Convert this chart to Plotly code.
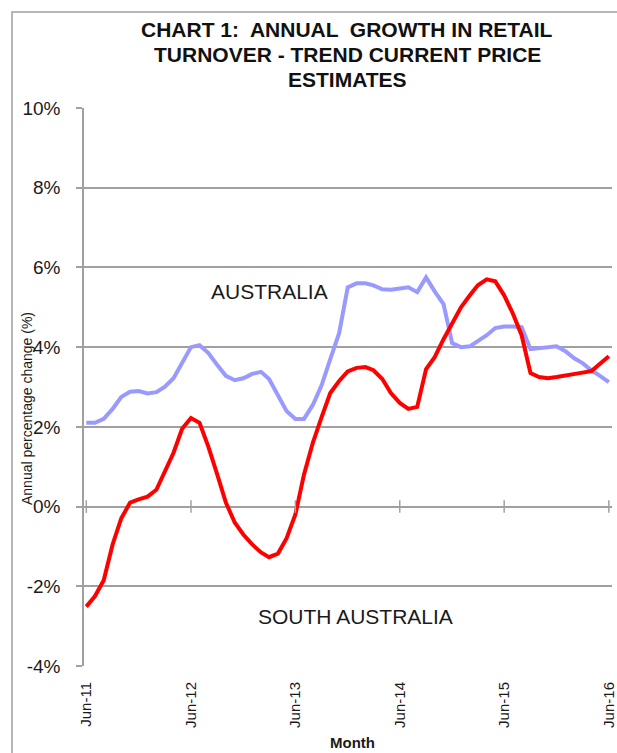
import plotly.graph_objects as go
import pandas as pd

# ---- data (annual % change, monthly Jun-11 .. Jun-16) ----
months = pd.date_range("2011-06-01", periods=61, freq="MS")

australia = [2.10, 2.10, 2.20, 2.45, 2.75, 2.88, 2.90, 2.84, 2.87, 3.00,
             3.22, 3.60, 4.00, 4.05, 3.85, 3.55, 3.28, 3.17, 3.22, 3.33,
             3.38, 3.20, 2.80, 2.40, 2.20, 2.20, 2.55, 3.05, 3.70, 4.35,
             5.50, 5.60, 5.60, 5.55, 5.45, 5.44, 5.47, 5.50, 5.38, 5.75,
             5.40, 5.08, 4.10, 4.00, 4.02, 4.15, 4.30, 4.48, 4.52, 4.52,
             4.50, 3.95, 3.97, 4.00, 4.02, 3.90, 3.72, 3.60, 3.42, 3.28,
             3.12]

south_australia = [-2.51, -2.25, -1.85, -0.95, -0.30, 0.10, 0.18, 0.25, 0.42, 0.85,
                   1.35, 1.95, 2.22, 2.10, 1.50, 0.80, 0.10, -0.40, -0.70, -0.95,
                   -1.15, -1.27, -1.18, -0.80, -0.20, 0.80, 1.60, 2.25, 2.85, 3.15,
                   3.39, 3.48, 3.50, 3.42, 3.20, 2.85, 2.60, 2.45, 2.50, 3.45,
                   3.75, 4.20, 4.60, 5.00, 5.30, 5.55, 5.70, 5.65, 5.30, 4.85,
                   4.30, 3.35, 3.25, 3.22, 3.25, 3.28, 3.33, 3.36, 3.40, 3.58,
                   3.77]

tick_dates = pd.date_range("2011-06-01", periods=6, freq="12MS")
tick_labels = ["Jun-11", "Jun-12", "Jun-13", "Jun-14", "Jun-15", "Jun-16"]
y_ticks = [-4, -2, 0, 2, 4, 6, 8, 10]
y_tick_labels = ["-4%", "-2%", "0%", "2%", "4%", "6%", "8%", "10%"]

title_lines = ["CHART 1:  ANNUAL  GROWTH IN RETAIL",
               "TURNOVER - TREND CURRENT PRICE",
               "ESTIMATES"]

# ---- layout geometry (pixels) ----
W, H = 617, 753
ML, MR, MT, MB = 84, 5, 108, 87
PW, PH = W - ML - MR, H - MT - MB


def px(x):
    return (x - ML) / PW


def py(y):
    return (H - MB - y) / PH


FONT = "Liberation Sans, Arial, sans-serif"
GRID = "#a0a0a0"

fig = go.Figure()

fig.add_trace(go.Scatter(x=months, y=australia, mode="lines",
                         line=dict(color="#9999ff", width=4),
                         name="AUSTRALIA", hoverinfo="skip"))
fig.add_trace(go.Scatter(x=months, y=south_australia, mode="lines",
                         line=dict(color="#ff0000", width=4),
                         name="SOUTH AUSTRALIA", hoverinfo="skip"))
# tick marks on the zero (category) axis line
fig.add_trace(go.Scatter(x=tick_dates, y=[0] * len(tick_dates), mode="markers",
                         marker=dict(symbol="line-ns", size=9,
                                     line=dict(color=GRID, width=1.5)),
                         hoverinfo="skip", showlegend=False, cliponaxis=False))

annotations = []
for txt, yc in zip(title_lines, [30, 55, 80]):
    annotations.append(dict(text=txt, x=px(347), y=py(yc), xref="paper", yref="paper",
                            xanchor="center", yanchor="middle", showarrow=False,
                            font=dict(family=FONT, size=21, color="#111111",
                                      weight="bold")))
annotations += [
    dict(text="AUSTRALIA", x=px(269), y=py(291), xref="paper", yref="paper",
         xanchor="center", yanchor="middle", showarrow=False,
         font=dict(family=FONT, size=21, color="#1a1a1a")),
    dict(text="SOUTH AUSTRALIA", x=px(355), y=py(616), xref="paper", yref="paper",
         xanchor="center", yanchor="middle", showarrow=False,
         font=dict(family=FONT, size=21, color="#1a1a1a")),
    dict(text="Annual percentage change (%)", x=px(27), y=py(409), xref="paper",
         yref="paper", xanchor="center", yanchor="middle", textangle=-90,
         showarrow=False, font=dict(family=FONT, size=14, color="#1a1a1a")),
    dict(text="Month", x=px(352), y=py(742), xref="paper", yref="paper",
         xanchor="center", yanchor="middle", showarrow=False,
         font=dict(family=FONT, size=15, color="#1a1a1a", weight="bold")),
]

x_start = months[0] - pd.Timedelta(days=8)
x_end = months[-1] + pd.Timedelta(days=11)

fig.update_layout(
    width=W, height=H,
    margin=dict(l=ML, r=MR, t=MT, b=MB, pad=0),
    paper_bgcolor="white", plot_bgcolor="white",
    showlegend=False,
    annotations=annotations,
    shapes=[dict(type="path", xref="paper", yref="paper",
                 path=f"M {px(12)} {py(800)} L {px(12)} {py(12)} L {px(700)} {py(12)}",
                 line=dict(color=GRID, width=1.5))],
    xaxis=dict(range=[x_start, x_end], tickvals=tick_dates,
               ticktext=tick_labels, tickangle=-90, ticks="",
               ticklabelstandoff=12, showgrid=False, zeroline=False,
               showline=False, automargin=False, ticklabeloverflow="allow",
               tickfont=dict(family=FONT, size=15, color="#1a1a1a")),
    yaxis=dict(range=[-4, 10], tickvals=y_ticks, ticktext=y_tick_labels,
               ticks="outside", ticklen=6, tickcolor=GRID, tickwidth=1.5,
               showline=True, linecolor=GRID, linewidth=1.5,
               showgrid=True, gridcolor=GRID, gridwidth=1.5,
               zeroline=True, zerolinecolor=GRID, zerolinewidth=1.5,
               ticklabelstandoff=12, automargin=False,
               tickfont=dict(family=FONT, size=19, color="#1a1a1a")),
)

fig.write_html("out.html",
               config={"displayModeBar": False},
               post_script="document.body.style.margin='0';"
                           "document.body.style.overflow='hidden';")
